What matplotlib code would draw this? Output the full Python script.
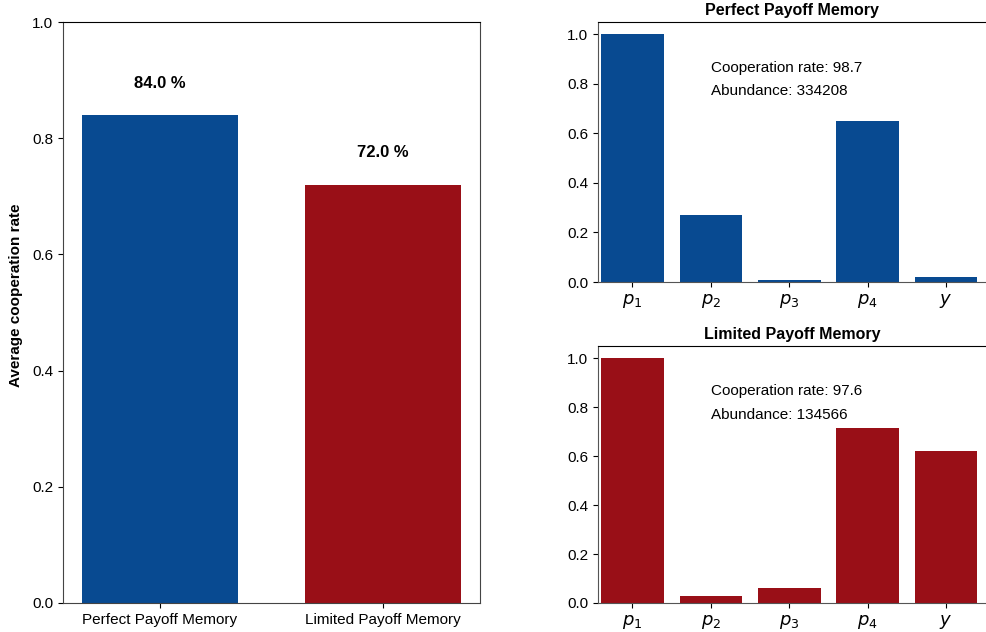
import matplotlib.pyplot as plt

plt.rcParams['font.family'] = ['Liberation Sans', 'DejaVu Sans']

blue = "#084a91"
red = "#990f17"

memory_types = ["Perfect Payoff Memory", "Limited Payoff Memory"]
avg_coop = [0.84, 0.72]

params = [r"$p_1$", r"$p_2$", r"$p_3$", r"$p_4$", r"$y$"]
perfect_strategy = [1.0, 0.27, 0.01, 0.65, 0.02]
limited_strategy = [1.0, 0.03, 0.06, 0.715, 0.62]
perfect_info = ["Cooperation rate: 98.7", "Abundance: 334208"]
limited_info = ["Cooperation rate: 97.6", "Abundance: 134566"]

fig = plt.figure(figsize=(9.86, 6.32), dpi=100)

# left panel: average cooperation
ax0 = fig.add_axes([63 / 986, 29 / 632, 417 / 986, 581 / 632])
ax0.bar(range(2), avg_coop, width=0.7, color=[blue, red])
for i, v in enumerate(avg_coop):
    ax0.text(i, v + 0.055, f"{v * 100:.1f} %", ha="center", va="center",
             fontsize=12, fontweight="bold")
ax0.set_ylim(0, 1)
ax0.set_xticks(range(2))
ax0.set_xticklabels(memory_types, fontsize=11)
ax0.set_ylabel("Average cooperation rate", fontsize=11, fontweight="bold")
ax0.yaxis.set_label_coords(-0.095, 0.53)
ax0.tick_params(labelsize=11)
for s in ["left", "right", "bottom"]:
    ax0.spines[s].set_color("#444444")

# right panels: strategies
def strategy_panel(rect, values, color, title, info):
    ax = fig.add_axes(rect)
    ax.bar(range(len(values)), values, width=0.8, color=color)
    ax.set_xlim(-0.44, 4.51)
    ax.set_ylim(0, 1.05)
    ax.set_xticks(range(len(values)))
    ax.set_xticklabels(params, fontsize=13)
    ax.set_yticks([0, 0.2, 0.4, 0.6, 0.8, 1.0])
    ax.tick_params(axis="y", labelsize=11)
    ax.set_title(title, fontsize=11.5, fontweight="bold", pad=5)
    ax.text(1.0, 0.865, info[0], ha="left", va="center", fontsize=11)
    ax.text(1.0, 0.77, info[1], ha="left", va="center", fontsize=11)
    ax.spines["right"].set_visible(False)
    for s in ["left", "bottom"]:
        ax.spines[s].set_color("#555555")
    return ax

strategy_panel([598 / 986, 350 / 632, 388 / 986, 260 / 632],
               perfect_strategy, blue, "Perfect Payoff Memory", perfect_info)
strategy_panel([598 / 986, 29 / 632, 388 / 986, 257 / 632],
               limited_strategy, red, "Limited Payoff Memory", limited_info)

fig.savefig("out.png", dpi=100)
